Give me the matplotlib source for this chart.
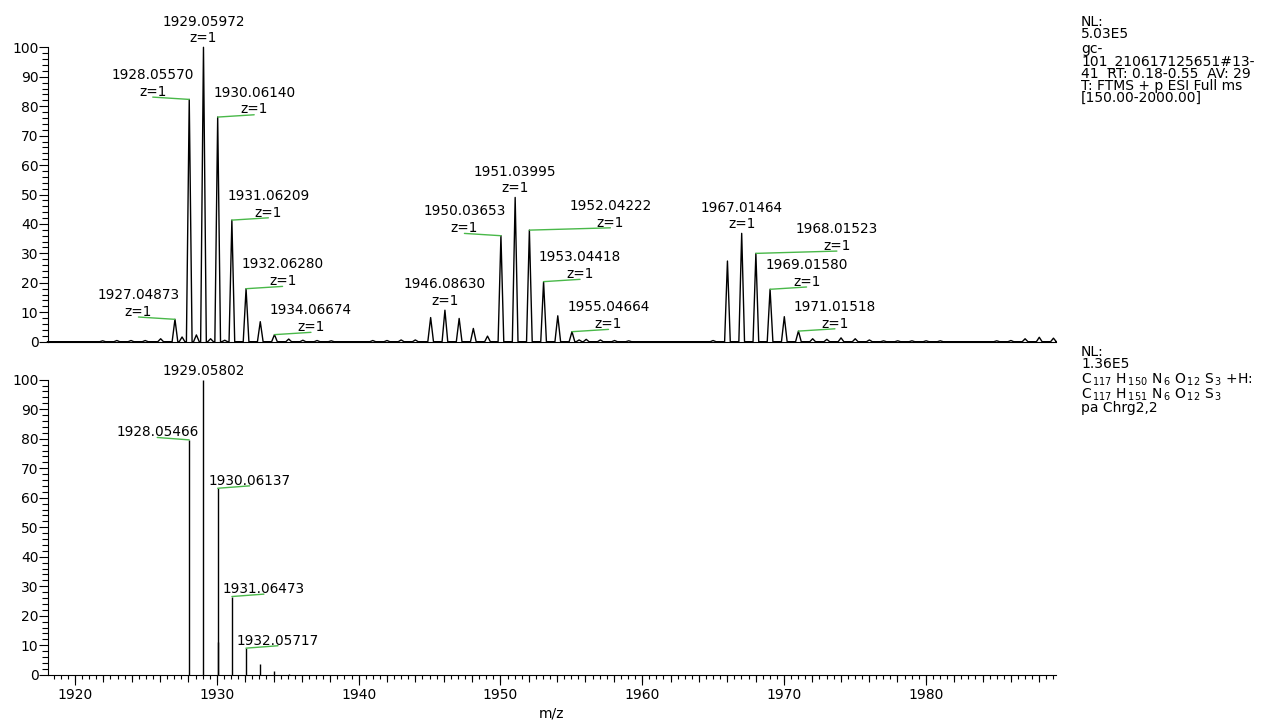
import numpy as np
import matplotlib
matplotlib.use("Agg")
from matplotlib import pyplot as plt
from matplotlib.ticker import MultipleLocator, NullLocator, NullFormatter

plt.rcParams['font.family'] = ['DejaVu Sans']

# measured profile spectrum (top panel), relative abundance
top_mz = [1921.95, 1922.95, 1923.95, 1924.95, 1926.04, 1927.04873, 1927.55, 1928.05570, 1928.56,
          1929.05972, 1929.56, 1930.06140, 1930.56, 1931.06209, 1932.06280, 1933.065, 1934.06674,
          1935.07, 1936.07, 1937.07, 1938.07, 1941.0, 1942.0, 1943.0, 1944.0, 1945.08, 1946.08630,
          1947.09, 1948.09, 1949.09, 1950.03653, 1951.03995, 1952.04222, 1953.04418, 1954.045,
          1955.04664, 1955.55, 1956.05, 1957.05, 1958.05, 1959.05, 1965.0, 1966.01, 1967.01464,
          1968.01523, 1969.01580, 1970.02, 1971.01518, 1972.02, 1973.02, 1974.02, 1975.02, 1976.02,
          1977.02, 1978.02, 1979.02, 1980.02, 1981.02, 1985.0, 1986.0, 1987.0, 1988.0, 1989.0]
top_int = [0.3, 0.4, 0.4, 0.4, 1.0, 7.6, 1.6, 82.3, 2.3,
           100.0, 1.0, 76.3, 0.5, 41.3, 18.0, 6.8, 2.4,
           0.9, 0.5, 0.4, 0.3, 0.4, 0.4, 0.6, 0.6, 8.2, 10.7,
           7.9, 4.5, 1.9, 36.0, 49.0, 37.9, 20.4, 8.8,
           3.4, 0.6, 0.8, 0.6, 0.4, 0.3, 0.4, 27.4, 36.8,
           30.0, 17.8, 8.5, 3.6, 1.0, 0.8, 1.3, 1.0, 0.6,
           0.3, 0.3, 0.3, 0.3, 0.3, 0.3, 0.4, 1.0, 1.5, 1.2]
top_labels = [1927.04873, 1928.05570, 1929.05972, 1930.06140, 1931.06209, 1932.06280, 1934.06674,
              1946.08630, 1950.03653, 1951.03995, 1952.04222, 1953.04418, 1955.04664,
              1967.01464, 1968.01523, 1969.01580, 1971.01518]
top_charge = ['z=1'] * len(top_labels)

# simulated isotope pattern (bottom panel)
sim_mz = [1928.05466, 1929.05802, 1930.05500, 1930.06137, 1931.06473, 1932.05717, 1933.06, 1934.06, 1935.06]
sim_int = [79.6, 100.0, 11.0, 63.2, 26.5, 9.0, 3.6, 1.2, 0.4]
sim_labels = [1928.05466, 1929.05802, 1930.06137, 1931.06473, 1932.05717]

info_top = ['NL:', '5.03E5', 'gc-', '101_210617125651#13-', '41  RT: 0.18-0.55  AV: 29',
            'T: FTMS + p ESI Full ms', '[150.00-2000.00]']
info_bot = ['NL:', '1.36E5', r'C$_{\,117}$ H$_{\,150}$ N$_{\,6}$ O$_{\,12}$ S$_{\,3}$ +H:',
            r'C$_{\,117}$ H$_{\,151}$ N$_{\,6}$ O$_{\,12}$ S$_{\,3}$', 'pa Chrg2,2']

# label shifts in pixels (0 = straight above the peak)
top_shift = [-36.5, -36.5, 0, 36.5, 36.5, 36.5, 36.5, 0, -36.5, 0, 81, 36.5, 36.5, 0, 81, 36.5, 36.5]
sim_shift = [-32, 0, 32, 32, 32]

W, H = 1263, 724
XMIN, XMAX = 1918.06, 1989.18
GREEN = '#49b849'
PT = 0.72  # px -> pt at dpi 100


def style_axis(ax):
    ax.set_xlim(XMIN, XMAX)
    ax.set_ylim(0, 100)
    for s in ['top', 'right']:
        ax.spines[s].set_visible(False)
    for s in ['left', 'bottom']:
        ax.spines[s].set_linewidth(0.8)
    ax.yaxis.set_major_locator(MultipleLocator(10))
    ax.yaxis.set_minor_locator(MultipleLocator(2))
    ax.tick_params(axis='y', which='major', length=6.5, width=0.8, pad=0, labelsize=10)
    ax.tick_params(axis='y', which='minor', length=4.5, width=0.8)


def lookup(mz_list, int_list, m):
    i = int(np.argmin(np.abs(np.array(mz_list) - m)))
    return int_list[i]


fig = plt.figure(figsize=(W / 100, H / 100), dpi=100)
ax1 = fig.add_axes([47.5 / W, 1 - 341.7 / H, (1056 - 47.5) / W, (341.7 - 47.3) / H])
ax2 = fig.add_axes([47.5 / W, 1 - 674.7 / H, (1056 - 47.5) / W, (674.7 - 379.7) / H])

# top: profile spectrum
hw = 0.2
px, py = [XMIN], [0]
for m, h in sorted(zip(top_mz, top_int)):
    px += [m - hw, m, m + hw]
    py += [0, h, 0]
px.append(XMAX)
py.append(0)
ax1.plot(px, py, color='black', lw=1, clip_on=False)
style_axis(ax1)
ax1.xaxis.set_major_locator(NullLocator())
ax1.xaxis.set_minor_locator(NullLocator())

for m, z, dx in zip(top_labels, top_charge, top_shift):
    h = lookup(top_mz, top_int, m)
    if dx == 0:
        zb, nb = 5.6, 21.8
    else:
        ax1.annotate('', xy=(m, h), xytext=(dx * PT, 2.3 * PT), textcoords='offset points',
                     arrowprops=dict(arrowstyle='-', color=GREEN, lw=1, shrinkA=0, shrinkB=0))
        zb, nb = 3.6, 20.3
    ax1.annotate(z, xy=(m, h), xytext=(dx * PT, zb * PT), textcoords='offset points',
                 ha='center', va='baseline', fontsize=9.8)
    ax1.annotate('%.5f' % m, xy=(m, h), xytext=(dx * PT, nb * PT), textcoords='offset points',
                 ha='center', va='baseline', fontsize=9.8)

# bottom: simulated sticks
ax2.vlines(sim_mz, 0, sim_int, colors='black', lw=1, clip_on=False)
style_axis(ax2)
ax2.xaxis.set_major_locator(MultipleLocator(10))
ax2.xaxis.set_minor_locator(MultipleLocator(0.5))
ax2.tick_params(axis='x', which='major', length=7.5, width=0.8, pad=2, labelsize=10)
ax2.tick_params(axis='x', which='minor', length=3, width=0.8)
sec = ax2.secondary_xaxis('bottom')
sec.set_xticks(np.arange(1920, 1990, 2))
sec.xaxis.set_minor_locator(NullLocator())
sec.xaxis.set_major_formatter(NullFormatter())
sec.tick_params(length=5, width=0.8)
sec.spines['bottom'].set_visible(False)
ax2.set_xlabel('m/z', fontsize=10, labelpad=3)

for m, dx in zip(sim_labels, sim_shift):
    h = lookup(sim_mz, sim_int, m)
    if dx == 0:
        nb = 4.3
    else:
        ax2.annotate('', xy=(m, h), xytext=(dx * PT, 2.4 * PT), textcoords='offset points',
                     arrowprops=dict(arrowstyle='-', color=GREEN, lw=1, shrinkA=0, shrinkB=0))
        nb = 3.4
    ax2.annotate('%.5f' % m, xy=(m, h), xytext=(dx * PT, nb * PT), textcoords='offset points',
                 ha='center', va='baseline', fontsize=9.8)

# info text on the right
for s, yb in zip(info_top, [25.7, 38.3, 53.5, 66, 78.3, 90, 102.3]):
    fig.text(1081 / W, 1 - yb / H, s, ha='left', va='baseline', fontsize=10)
for s, yb in zip(info_bot, [355.7, 368.3, 384, 398.5, 412]):
    fig.text(1081 / W, 1 - yb / H, s, ha='left', va='baseline', fontsize=10)

fig.savefig('out.png', dpi=100)
